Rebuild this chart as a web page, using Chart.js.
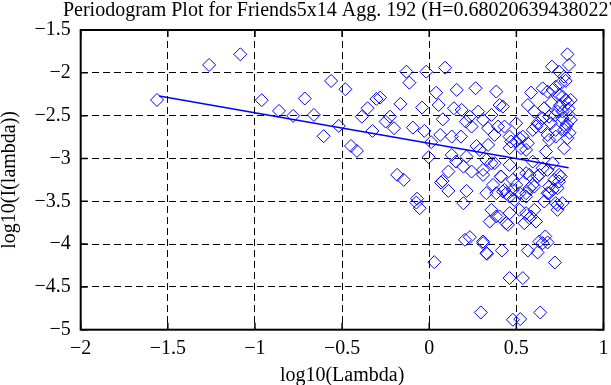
<!DOCTYPE html>
<html>
<head>
<meta charset="utf-8">
<script src="https://cdn.jsdelivr.net/npm/chart.js@4.4.1/dist/chart.umd.min.js"></script>
<style>
  html, body { margin: 0; padding: 0; background: #fff; }
  #plot { display: block; }
</style>
</head>
<body>
<canvas id="plot" width="611" height="385"></canvas>
<script>
const titleText = "Periodogram Plot for Friends5x14 Agg. 192 (H=0.680206394380227)";

const xTicks = [-2, -1.5, -1, -0.5, 0, 0.5, 1];
const yTicks = [-5, -4.5, -4, -3.5, -3, -2.5, -2, -1.5];

// log10(lambda) and log10(I(lambda))
const lambdaLog = [
  -1.562, -1.263, -1.084, -0.961, -0.862, -0.781, -0.714,
  -0.563, -0.481, -0.662, -0.606, -0.519, -0.449, -0.415, -0.387, -0.354, -0.326,
  -0.303, -0.282, -0.250, -0.225, -0.202, -0.165, -0.131, -0.114, -0.094, -0.041,
  -0.028, -0.017, -0.003, 0.011, 0.040, 0.054, 0.078, 0.091, 0.063, 0.129,
  0.142, 0.158, 0.182, 0.186, 0.129, 0.154, 0.110, 0.076, 0.110, 0.210,
  0.233, 0.266, 0.243, 0.281, 0.271, 0.214, 0.196, 0.243, 0.214, 0.309,
  0.338, 0.357, 0.385, 0.404, 0.423, 0.375, 0.395, 0.338, 0.328, 0.309,
  0.375, 0.410, 0.328, 0.432, 0.461, 0.470, 0.499, 0.518, 0.480, 0.556,
  0.556, 0.584, 0.566, 0.575, 0.613, 0.651, 0.704, 0.745, 0.793, 0.802,
  0.783, 0.708, 0.765, 0.812, 0.660, 0.688, 0.765, 0.641, 0.726, 0.783,
  0.688, 0.793, 0.774, 0.670, 0.708, 0.651, 0.745, 0.688, 0.736, 0.594,
  0.622, -0.184, -0.146, -0.070,
  -0.074, -0.055, 0.068, 0.196, 0.366, 0.423, 0.461, 0.499, 0.556, 0.603,
  0.357, 0.385, 0.347, 0.442, 0.461, 0.556, 0.575, 0.546, 0.613, 0.603,
  0.660, 0.688, 0.736, 0.736, 0.745, 0.708, 0.385, 0.489, 0.205, 0.233,
  0.309, 0.332, 0.417, 0.566, 0.622, 0.651, 0.666, 0.679, 0.721, 0.029,
  0.461, 0.537, 0.296, 0.480, 0.522, 0.637,
  0.774, 0.679, 0.726, 0.755, 0.745, 0.783, 0.603, 0.651, 0.698, 0.736,
  0.765, 0.802, 0.774, 0.726, 0.679, 0.622, 0.594, 0.432, 0.461, 0.499,
  0.537, 0.566, 0.527, 0.461, 0.290,
  0.309, 0.357, 0.413, 0.442, 0.480, 0.518, 0.556, 0.594, 0.575, 0.518,
  0.632, 0.679, 0.717, 0.755, 0.679, 0.726, 0.765, 0.404, 0.452, 0.518,
  0.584, 0.309, 0.328, 0.632,
  0.795, 0.800, 0.812, 0.790, 0.750, 0.720, 0.700, 0.805
];

const periodLog = [
  -2.317, -1.908, -1.784, -2.320, -2.445, -2.503, -2.300,
  -2.095, -2.192, -2.492, -2.740, -2.620, -2.854, -2.912, -2.512, -2.414, -2.679,
  -2.305, -2.290, -2.570, -2.512, -2.647, -2.363, -1.987, -2.115, -2.640, -2.406,
  -2.678, -1.987, -2.985, -2.810, -2.232, -2.376, -2.543, -1.940, -2.725, -2.745,
  -2.414, -2.200, -2.745, -2.433, -2.959, -3.037, -3.153, -3.262, -3.379, -2.570,
  -2.512, -2.180, -2.628, -2.453, -2.854, -2.978, -3.095, -3.153, -3.379, -2.550,
  -2.647, -2.492, -2.219, -2.376, -2.395, -2.725, -2.628, -2.842, -3.017, -3.192,
  -3.056, -3.210, -3.406, -3.367, -3.075, -2.803, -2.589, -2.764, -3.250, -2.900,
  -3.172, -2.231, -2.376, -3.348, -2.628, -2.181, -1.928, -1.987, -1.784, -1.908,
  -2.095, -2.200, -2.278, -2.317, -2.414, -2.512, -2.453, -2.628, -2.667, -2.628,
  -2.784, -2.764, -2.880, -2.920, -3.056, -3.114, -3.192, -3.328, -3.348, -3.037,
  -3.210, -3.192, -3.250, -3.470,
  -3.515, -3.581, -3.282, -3.523, -3.309, -3.387, -3.445, -3.309, -3.406, -3.328,
  -3.600, -3.678, -3.737, -3.756, -3.639, -3.639, -3.698, -3.756, -3.737, -3.600,
  -3.503, -3.406, -3.542, -3.600, -3.270, -3.367, -3.406, -3.484, -3.950, -3.919,
  -3.989, -4.114, -4.075, -4.075, -4.098, -3.989, -3.911, -3.981, -4.215, -4.211,
  -4.397, -4.397, -4.799, -4.884, -4.876, -4.799,
  -2.045, -2.220, -2.162, -2.122, -2.258, -2.317, -2.453, -2.530, -2.589, -2.453,
  -2.530, -2.492, -2.667, -2.745, -2.725, -2.589, -2.667, -2.628, -2.745, -2.803,
  -2.745, -2.822, -2.880, -2.880, -2.900,
  -3.134, -3.056, -3.212, -3.406, -3.367, -3.406, -3.445, -3.309, -3.192, -3.172,
  -3.192, -3.134, -3.250, -3.212, -3.406, -3.522, -3.522, -3.678, -3.775, -3.600,
  -3.678, -3.970, -4.106, -3.970,
  -2.350, -2.420, -2.550, -2.600, -2.380, -2.500, -2.350, -2.700
];

// least-squares fit line end points
const fitX = [-1.55, 0.80];
const fitY = [-2.27, -3.11];

const serif = '"Liberation Serif", "Times New Roman", Times, serif';
const minus = v => String(v).replace('-', '\u2212');

const framePlugin = {
  id: 'frame',
  afterDraw(chart) {
    const { ctx, chartArea: a, scales: { x, y } } = chart;
    ctx.save();
    ctx.strokeStyle = '#000';
    ctx.lineWidth = 1.5;
    ctx.beginPath();
    xTicks.forEach(v => {
      const px = x.getPixelForValue(v);
      ctx.moveTo(px, a.bottom); ctx.lineTo(px, a.bottom - 7);
      ctx.moveTo(px, a.top); ctx.lineTo(px, a.top + 7);
    });
    yTicks.forEach(v => {
      const py = y.getPixelForValue(v);
      ctx.moveTo(a.left, py); ctx.lineTo(a.left + 7, py);
      ctx.moveTo(a.right, py); ctx.lineTo(a.right - 7, py);
    });
    ctx.stroke();
    ctx.lineWidth = 2;
    ctx.strokeRect(a.left, a.top, a.right - a.left, a.bottom - a.top);

    ctx.fillStyle = '#000';
    ctx.font = '20px ' + serif;
    ctx.textAlign = 'center';
    ctx.textBaseline = 'alphabetic';
    ctx.fillText(titleText, (a.left + a.right) / 2 + 2, 16);
    ctx.restore();
  }
};

const points = lambdaLog.map((v, i) => ({ x: v, y: periodLog[i] }));
const fitLine = fitX.map((v, i) => ({ x: v, y: fitY[i] }));

new Chart(document.getElementById('plot'), {
  type: 'scatter',
  data: {
    datasets: [
      {
        type: 'line',
        data: fitLine,
        borderColor: '#0000ff',
        borderWidth: 1.5,
        pointRadius: 0,
        fill: false
      },
      {
        data: points,
        pointStyle: 'rectRot',
        pointRadius: 6.5,
        borderColor: '#0000ff',
        backgroundColor: 'rgba(0,0,0,0)',
        borderWidth: 1
      }
    ]
  },
  options: {
    responsive: false,
    animation: false,
    devicePixelRatio: 1,
    layout: { padding: { top: 30, right: 3, left: 0, bottom: 0 } },
    plugins: { legend: { display: false }, tooltip: { enabled: false } },
    scales: {
      x: {
        type: 'linear',
        min: -2,
        max: 1,
        afterBuildTicks: s => { s.ticks = xTicks.map(v => ({ value: v })); },
        afterFit: s => { s.height = 55.3; s.paddingLeft = 0; s.paddingRight = 0; },
        grid: { color: '#000', lineWidth: 1, drawTicks: false },
        border: { display: false, dash: [7, 4] },
        ticks: {
          color: '#000',
          padding: 7,
          maxRotation: 0,
          font: { family: serif, size: 20 },
          callback: v => minus(v)
        },
        title: {
          display: true,
          text: 'log10(Lambda)',
          color: '#000',
          padding: 0,
          font: { family: serif, size: 20, lineHeight: 0.95 }
        }
      },
      y: {
        type: 'linear',
        min: -5,
        max: -1.5,
        afterBuildTicks: s => { s.ticks = yTicks.map(v => ({ value: v })); },
        afterFit: s => { s.width = 80.7; s.paddingTop = 0; s.paddingBottom = 0; },
        grid: { color: '#000', lineWidth: 1, drawTicks: false },
        border: { display: false, dash: [7, 4] },
        ticks: {
          color: '#000',
          padding: 10,
          font: { family: serif, size: 20 },
          callback: v => minus(v)
        },
        title: {
          display: true,
          text: 'log10(I(lambda))',
          color: '#000',
          padding: 0,
          font: { family: serif, size: 20, lineHeight: 0.95 }
        }
      }
    }
  },
  plugins: [framePlugin]
});
</script>
</body>
</html>
